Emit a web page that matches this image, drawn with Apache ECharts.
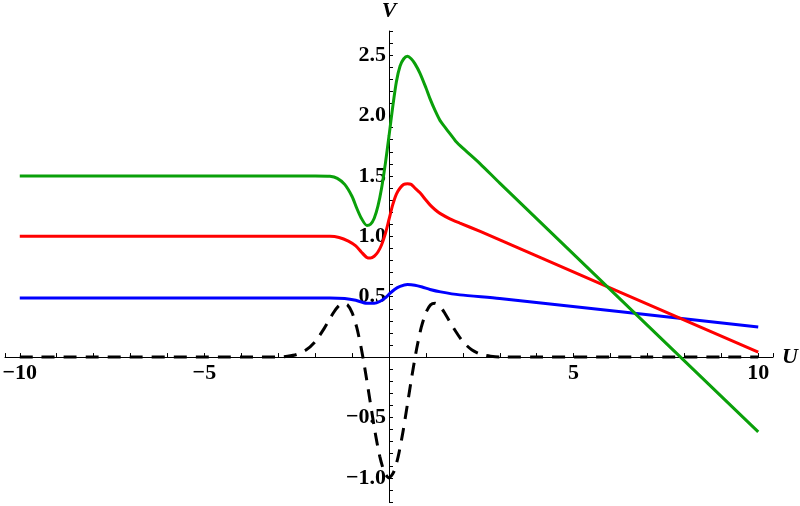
<!DOCTYPE html>
<html>
<head>
<meta charset="utf-8">
<title>U-V curves</title>
<script src="https://cdn.jsdelivr.net/npm/echarts@6/dist/echarts.min.js"></script>
<style>
    html, body { margin: 0; padding: 0; background: #fff; }
    #main { width: 800px; height: 506px; }
</style>
</head>
<body>
<div id="main"></div>
<script>
// values
var uDashed = [-10, -3, -2.75, -2.5, -2.25, -2, -1.75, -1.5, -1.375, -1.25, -1.125, -1, -0.875, -0.75, -0.625, -0.5, -0.375, -0.25, -0.125, 0,
    0.125, 0.25, 0.375, 0.5, 0.625, 0.75, 0.875, 1, 1.125, 1.25, 1.375, 1.5, 1.75, 2, 2.25, 2.5, 2.75, 3, 10];
var vDashed = [0, 0, 0.007, 0.022, 0.058, 0.128, 0.24, 0.369, 0.42, 0.445, 0.432, 0.368, 0.247, 0.071, -0.148, -0.389, -0.625, -0.822, -0.953, -1.0,
    -0.953, -0.822, -0.625, -0.389, -0.148, 0.071, 0.247, 0.368, 0.432, 0.445, 0.42, 0.369, 0.24, 0.128, 0.058, 0.022, 0.007, 0, 0];

var uBlue = [-10, -1.6, -1.2, -0.9, -0.6, -0.4, -0.25, -0.1, 0, 0.15, 0.3, 0.5, 0.7, 0.9, 1.11, 1.4, 1.92, 3, 10];
var vBlue = [0.49, 0.49, 0.485, 0.47, 0.445, 0.445, 0.46, 0.49, 0.52, 0.56, 0.585, 0.6, 0.595, 0.58, 0.56, 0.54, 0.515, 0.485, 0.25];

var uRed = [-10, -1.6, -1.35, -1.1, -0.9, -0.75, -0.6, -0.5, -0.4, -0.3, -0.2, -0.1, 0, 0.1, 0.2, 0.3, 0.4, 0.5, 0.6, 0.7, 0.84, 1, 1.11, 1.25, 1.38, 1.65, 1.92, 2.47, 3, 10];
var vRed = [1.0, 1.0, 0.99, 0.96, 0.92, 0.87, 0.825, 0.82, 0.835, 0.87, 0.93, 1.02, 1.14, 1.26, 1.35, 1.4, 1.43, 1.435, 1.43, 1.4, 1.36, 1.3, 1.26, 1.22, 1.19, 1.145, 1.11, 1.04, 0.97, 0.04];

var uGreen = [-10, -2, -1.6, -1.4, -1.2, -1, -0.87, -0.75, -0.6, -0.5, -0.4, -0.3, -0.2, -0.1, 0, 0.1, 0.2, 0.3, 0.4, 0.5, 0.6, 0.7, 0.84, 1, 1.11, 1.25, 1.38, 1.5, 1.65, 1.8, 2, 2.47, 3, 10];
var vGreen = [1.5, 1.5, 1.497, 1.48, 1.43, 1.33, 1.23, 1.15, 1.09, 1.1, 1.15, 1.25, 1.4, 1.6, 1.83, 2.07, 2.28, 2.41, 2.47, 2.49, 2.47, 2.43, 2.35, 2.23, 2.14, 2.04, 1.96, 1.91, 1.85, 1.79, 1.73, 1.6, 1.44, -0.62];

var xMajor = [-10, -5, 5, 10];
var yMajor = [-1.0, -0.5, 0.5, 1.0, 1.5, 2.0, 2.5];

var uvChart = (function () {
    var Return = {
        init: function () {
            initChart();
        }
    }
    // plot box, the axes cross at the origin inside it
    var box = { left: 5, right: 27, top: 31, bottom: 4, w: 800, h: 506 };
    var xRange = [-10.4, 10.4];
    var yRange = [-1.2, 2.7];

    var pairs = function (us, vs) {
        return us.map(function (u, i) { return [u, vs[i]]; });
    }
    var isMajor = function (list, value) {
        for (var i = 0; i < list.length; i++) {
            if (Math.abs(list[i] - value) < 1e-6) return true;
        }
        return false;
    }
    var minus = function (s) {
        return s.replace('-', '\u2212');
    }
    var lineSeries = function (name, data, color, dash) {
        return {
            name: name,
            type: 'line',
            data: data,
            showSymbol: false,
            smooth: 0.25,
            z: 2,
            lineStyle: {
                color: color,
                width: 3,
                type: dash || 'solid'
            }
        };
    }
    var initChart = function () {
        var myChart = echarts.init(document.getElementById('main'));
        var plotW = box.w - box.left - box.right;
        var plotH = box.h - box.top - box.bottom;
        // pull the axes from the box edges to zero (labels do not follow onZero)
        var yAxisOffset = -plotW * (0 - xRange[0]) / (xRange[1] - xRange[0]);
        var xAxisOffset = -plotH * (0 - yRange[0]) / (yRange[1] - yRange[0]);
        var nameFont = {
            color: '#000',
            fontFamily: 'Liberation Serif',
            fontStyle: 'italic',
            fontWeight: 'bold',
            fontSize: 22
        };
        var option = {
            animation: false,
            backgroundColor: '#fff',
            grid: {
                left: box.left,
                right: box.right,
                top: box.top,
                bottom: box.bottom,
                containLabel: false,
                outerBoundsMode: 'none'
            },
            xAxis: {
                type: 'value',
                position: 'bottom',
                offset: xAxisOffset,
                min: xRange[0],
                max: xRange[1],
                splitNumber: 21,
                minInterval: 1,
                maxInterval: 1,
                name: 'U',
                nameLocation: 'end',
                nameGap: 9,
                nameTextStyle: nameFont,
                axisLine: { onZero: false, lineStyle: { color: '#000', width: 1 } },
                axisTick: { inside: true, length: 4, lineStyle: { color: '#000' } },
                splitLine: { show: false },
                axisLabel: {
                    margin: 5,
                    interval: 0,
                    color: '#000',
                    fontFamily: 'Liberation Serif',
                    fontWeight: 'bold',
                    fontSize: 22,
                    formatter: function (v) {
                        return isMajor(xMajor, v) ? minus(String(Math.round(v))) : '';
                    }
                }
            },
            yAxis: {
                type: 'value',
                position: 'left',
                offset: yAxisOffset,
                min: yRange[0],
                max: yRange[1],
                interval: 0.1,
                name: 'V',
                nameLocation: 'end',
                nameGap: 9,
                nameTextStyle: nameFont,
                axisLine: { onZero: false, lineStyle: { color: '#000', width: 1 } },
                axisTick: { inside: true, length: 4, lineStyle: { color: '#000' } },
                splitLine: { show: false },
                axisLabel: {
                    margin: 3,
                    interval: 0,
                    color: '#000',
                    fontFamily: 'Liberation Serif',
                    fontWeight: 'bold',
                    fontSize: 22,
                    formatter: function (v) {
                        return isMajor(yMajor, v) ? minus(v.toFixed(1)) : '';
                    }
                }
            },
            series: [
                lineSeries('dashed', pairs(uDashed, vDashed), '#000', [13, 9]),
                lineSeries('blue', pairs(uBlue, vBlue), '#0000ff'),
                lineSeries('red', pairs(uRed, vRed), '#ff0000'),
                lineSeries('green', pairs(uGreen, vGreen), '#0aa00a')
            ]
        };
        myChart.setOption(option);
    }
    return Return;
})();

; (function () {
    uvChart.init();
})();
</script>
</body>
</html>
